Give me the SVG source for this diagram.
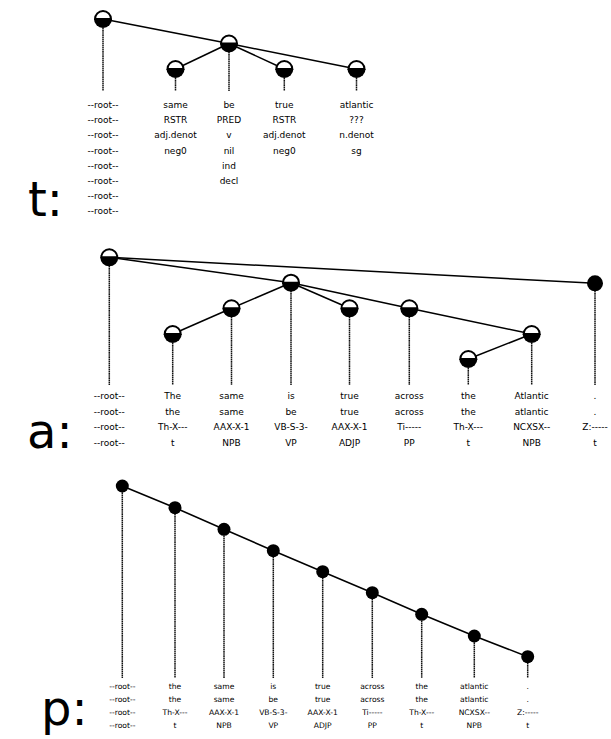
<svg xmlns="http://www.w3.org/2000/svg" xmlns:xlink="http://www.w3.org/1999/xlink" width="611" height="739" viewBox="0 0 611 739">
<style>
.e{stroke:#000;stroke-width:1.5;fill:none}
.s{stroke:#111;stroke-width:1.5;stroke-dasharray:1.6 0.5;fill:none}
text{font-family:"DejaVu Sans","Liberation Sans",sans-serif;fill:#000;text-anchor:middle}
.t9{font-size:9px}
.t8{font-size:7.6px}
.lab{font-size:48px;text-anchor:start}
</style>
<defs>
<g id="hn"><path d="M-8,0 A8,8 0 0 1 8,0 Z" fill="#fff" stroke="#000" stroke-width="2"/><path d="M-9,0 A9,9 0 0 0 9,0 Z" fill="#000"/></g>
</defs>
<rect width="611" height="739" fill="#fff"/>
<g id="labels">
<text class="lab" x="28" y="216">t:</text>
<text class="lab" x="27" y="448">a:</text>
<text class="lab" x="41" y="725">p:</text>
</g>
<g id="connectors">
<line class="e" x1="103" y1="19" x2="229" y2="43.5"/>
<line class="e" x1="229" y1="43.5" x2="356.5" y2="69"/>
<line class="e" x1="229" y1="43.5" x2="175.5" y2="69"/>
<line class="e" x1="229" y1="43.5" x2="284.3" y2="69"/>
<line class="s" x1="103" y1="28" x2="103" y2="91"/>
<line class="s" x1="175.5" y1="78" x2="175.5" y2="91"/>
<line class="s" x1="229" y1="52" x2="229" y2="91"/>
<line class="s" x1="284.3" y1="78" x2="284.3" y2="91"/>
<line class="s" x1="356.5" y1="78" x2="356.5" y2="91"/>
<line class="e" x1="109.3" y1="257.3" x2="595" y2="283.3"/>
<line class="e" x1="109.3" y1="257.3" x2="291" y2="282.7"/>
<line class="e" x1="291" y1="282.7" x2="231.5" y2="308.3"/>
<line class="e" x1="231.5" y1="308.3" x2="172.7" y2="334"/>
<line class="e" x1="291" y1="282.7" x2="349.5" y2="308.3"/>
<line class="e" x1="291" y1="282.7" x2="409.3" y2="308.3"/>
<line class="e" x1="409.3" y1="308.3" x2="531.7" y2="334"/>
<line class="e" x1="531.7" y1="334" x2="468.3" y2="359"/>
<line class="s" x1="109.3" y1="266" x2="109.3" y2="385"/>
<line class="s" x1="172.7" y1="343" x2="172.7" y2="385"/>
<line class="s" x1="231.5" y1="317" x2="231.5" y2="385"/>
<line class="s" x1="291" y1="291" x2="291" y2="385"/>
<line class="s" x1="349.5" y1="317" x2="349.5" y2="385"/>
<line class="s" x1="409.3" y1="317" x2="409.3" y2="385"/>
<line class="s" x1="468.3" y1="368" x2="468.3" y2="385"/>
<line class="s" x1="531.7" y1="343" x2="531.7" y2="385"/>
<line class="s" x1="595" y1="291" x2="595" y2="385"/>
<polyline class="e" points="122.3,486 175,507.7 224,529.3 273.3,550.7 322.7,571.7 372.3,592.7 421.7,614.3 474.3,636 527.7,656.7"/>
<line class="s" x1="122.3" y1="486" x2="122.3" y2="678"/>
<line class="s" x1="175" y1="507.7" x2="175" y2="678"/>
<line class="s" x1="224" y1="529.3" x2="224" y2="678"/>
<line class="s" x1="273.3" y1="550.7" x2="273.3" y2="678"/>
<line class="s" x1="322.7" y1="571.7" x2="322.7" y2="678"/>
<line class="s" x1="372.3" y1="592.7" x2="372.3" y2="678"/>
<line class="s" x1="421.7" y1="614.3" x2="421.7" y2="678"/>
<line class="s" x1="474.3" y1="636" x2="474.3" y2="678"/>
<line class="s" x1="527.7" y1="656.7" x2="527.7" y2="678"/>
</g>
<g id="t-root"><use xlink:href="#hn" x="103" y="19"/>
<text class="t9" x="103" y="108">--root--</text><text class="t9" x="103" y="123.2">--root--</text><text class="t9" x="103" y="138.4">--root--</text><text class="t9" x="103" y="153.6">--root--</text><text class="t9" x="103" y="168.8">--root--</text><text class="t9" x="103" y="184">--root--</text><text class="t9" x="103" y="199.2">--root--</text><text class="t9" x="103" y="214.4">--root--</text></g>
<g id="t-same"><use xlink:href="#hn" x="175.5" y="69"/>
<text class="t9" x="175.5" y="108">same</text><text class="t9" x="175.5" y="123.2">RSTR</text><text class="t9" x="175.5" y="138.4">adj.denot</text><text class="t9" x="175.5" y="153.6">neg0</text></g>
<g id="t-be"><use xlink:href="#hn" x="229" y="43.5"/>
<text class="t9" x="229" y="108">be</text><text class="t9" x="229" y="123.2">PRED</text><text class="t9" x="229" y="138.4">v</text><text class="t9" x="229" y="153.6">nil</text><text class="t9" x="229" y="168.8">ind</text><text class="t9" x="229" y="184">decl</text></g>
<g id="t-true"><use xlink:href="#hn" x="284.3" y="69"/>
<text class="t9" x="284.3" y="108">true</text><text class="t9" x="284.3" y="123.2">RSTR</text><text class="t9" x="284.3" y="138.4">adj.denot</text><text class="t9" x="284.3" y="153.6">neg0</text></g>
<g id="t-atlantic"><use xlink:href="#hn" x="356.5" y="69"/>
<text class="t9" x="356.5" y="108">atlantic</text><text class="t9" x="356.5" y="123.2">???</text><text class="t9" x="356.5" y="138.4">n.denot</text><text class="t9" x="356.5" y="153.6">sg</text></g>
<g id="a-root"><use xlink:href="#hn" x="109.3" y="257.3"/>
<text class="t9" x="109.3" y="399">--root--</text><text class="t9" x="109.3" y="414.5">--root--</text><text class="t9" x="109.3" y="430">--root--</text><text class="t9" x="109.3" y="445.5">--root--</text></g>
<g id="a-The"><use xlink:href="#hn" x="172.7" y="334"/>
<text class="t9" x="172.7" y="399">The</text><text class="t9" x="172.7" y="414.5">the</text><text class="t9" x="172.7" y="430">Th-X---</text><text class="t9" x="172.7" y="445.5">t</text></g>
<g id="a-same"><use xlink:href="#hn" x="231.5" y="308.3"/>
<text class="t9" x="231.5" y="399">same</text><text class="t9" x="231.5" y="414.5">same</text><text class="t9" x="231.5" y="430">AAX-X-1</text><text class="t9" x="231.5" y="445.5">NPB</text></g>
<g id="a-is"><use xlink:href="#hn" x="291" y="282.7"/>
<text class="t9" x="291" y="399">is</text><text class="t9" x="291" y="414.5">be</text><text class="t9" x="291" y="430">VB-S-3-</text><text class="t9" x="291" y="445.5">VP</text></g>
<g id="a-true"><use xlink:href="#hn" x="349.5" y="308.3"/>
<text class="t9" x="349.5" y="399">true</text><text class="t9" x="349.5" y="414.5">true</text><text class="t9" x="349.5" y="430">AAX-X-1</text><text class="t9" x="349.5" y="445.5">ADJP</text></g>
<g id="a-across"><use xlink:href="#hn" x="409.3" y="308.3"/>
<text class="t9" x="409.3" y="399">across</text><text class="t9" x="409.3" y="414.5">across</text><text class="t9" x="409.3" y="430">Ti-----</text><text class="t9" x="409.3" y="445.5">PP</text></g>
<g id="a-the"><use xlink:href="#hn" x="468.3" y="359"/>
<text class="t9" x="468.3" y="399">the</text><text class="t9" x="468.3" y="414.5">the</text><text class="t9" x="468.3" y="430">Th-X---</text><text class="t9" x="468.3" y="445.5">t</text></g>
<g id="a-Atlantic"><use xlink:href="#hn" x="531.7" y="334"/>
<text class="t9" x="531.7" y="399">Atlantic</text><text class="t9" x="531.7" y="414.5">atlantic</text><text class="t9" x="531.7" y="430">NCXSX--</text><text class="t9" x="531.7" y="445.5">NPB</text></g>
<g id="a-period"><circle cx="595" cy="283.3" r="8" fill="#000"/>
<text class="t9" x="595" y="399">.</text><text class="t9" x="595" y="414.5">.</text><text class="t9" x="595" y="430">Z:-----</text><text class="t9" x="595" y="445.5">t</text></g>
<g id="p-root"><circle cx="122.3" cy="486" r="6.5" fill="#000"/>
<text class="t8" x="122.3" y="688.8">--root--</text><text class="t8" x="122.3" y="701.8">--root--</text><text class="t8" x="122.3" y="715">--root--</text><text class="t8" x="122.3" y="728">--root--</text></g>
<g id="p-the1"><circle cx="175" cy="507.7" r="6.5" fill="#000"/>
<text class="t8" x="175" y="688.8">the</text><text class="t8" x="175" y="701.8">the</text><text class="t8" x="175" y="715">Th-X---</text><text class="t8" x="175" y="728">t</text></g>
<g id="p-same"><circle cx="224" cy="529.3" r="6.5" fill="#000"/>
<text class="t8" x="224" y="688.8">same</text><text class="t8" x="224" y="701.8">same</text><text class="t8" x="224" y="715">AAX-X-1</text><text class="t8" x="224" y="728">NPB</text></g>
<g id="p-is"><circle cx="273.3" cy="550.7" r="6.5" fill="#000"/>
<text class="t8" x="273.3" y="688.8">is</text><text class="t8" x="273.3" y="701.8">be</text><text class="t8" x="273.3" y="715">VB-S-3-</text><text class="t8" x="273.3" y="728">VP</text></g>
<g id="p-true"><circle cx="322.7" cy="571.7" r="6.5" fill="#000"/>
<text class="t8" x="322.7" y="688.8">true</text><text class="t8" x="322.7" y="701.8">true</text><text class="t8" x="322.7" y="715">AAX-X-1</text><text class="t8" x="322.7" y="728">ADJP</text></g>
<g id="p-across"><circle cx="372.3" cy="592.7" r="6.5" fill="#000"/>
<text class="t8" x="372.3" y="688.8">across</text><text class="t8" x="372.3" y="701.8">across</text><text class="t8" x="372.3" y="715">Ti-----</text><text class="t8" x="372.3" y="728">PP</text></g>
<g id="p-the2"><circle cx="421.7" cy="614.3" r="6.5" fill="#000"/>
<text class="t8" x="421.7" y="688.8">the</text><text class="t8" x="421.7" y="701.8">the</text><text class="t8" x="421.7" y="715">Th-X---</text><text class="t8" x="421.7" y="728">t</text></g>
<g id="p-atlantic"><circle cx="474.3" cy="636" r="6.5" fill="#000"/>
<text class="t8" x="474.3" y="688.8">atlantic</text><text class="t8" x="474.3" y="701.8">atlantic</text><text class="t8" x="474.3" y="715">NCXSX--</text><text class="t8" x="474.3" y="728">NPB</text></g>
<g id="p-period"><circle cx="527.7" cy="656.7" r="6.5" fill="#000"/>
<text class="t8" x="527.7" y="688.8">.</text><text class="t8" x="527.7" y="701.8">.</text><text class="t8" x="527.7" y="715">Z:-----</text><text class="t8" x="527.7" y="728">t</text></g>
</svg>
